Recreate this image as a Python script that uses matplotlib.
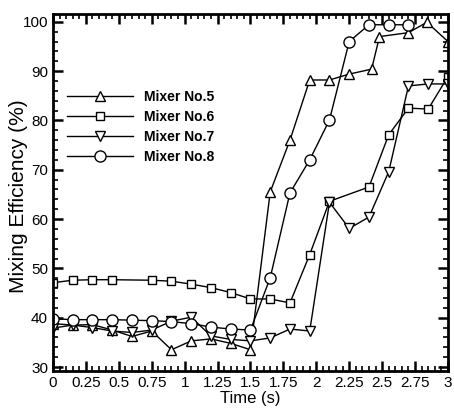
import matplotlib
matplotlib.use('Agg')
import matplotlib.pyplot as plt
from matplotlib.ticker import MultipleLocator

plt.rcParams['font.family'] = ['Liberation Sans', 'DejaVu Sans']

# Data
t5 = [0, 0.15, 0.3, 0.45, 0.6, 0.75, 0.9, 1.05, 1.2, 1.35, 1.5, 1.65, 1.8,
      1.95, 2.1, 2.25, 2.42, 2.48, 2.7, 2.84, 3.0]
mixer5 = [38.8, 38.5, 38.6, 37.5, 36.2, 37.3, 33.5, 35.3, 35.7, 34.8, 33.5,
          65.5, 76.0, 88.2, 88.2, 89.4, 90.4, 97.0, 97.8, 99.9, 96.0]

t6 = [0, 0.15, 0.3, 0.45, 0.75, 0.9, 1.05, 1.2, 1.35, 1.5, 1.65, 1.8, 1.95,
      2.1, 2.4, 2.55, 2.7, 2.85, 3.0]
mixer6 = [47.1, 47.6, 47.7, 47.7, 47.6, 47.4, 46.8, 46.1, 45.1, 43.8, 43.8,
          43.0, 52.8, 63.6, 66.5, 77.1, 82.5, 82.3, 88.9]

t7 = [0, 0.15, 0.3, 0.45, 0.6, 0.75, 0.9, 1.05, 1.2, 1.35, 1.5, 1.65, 1.8,
      1.95, 2.1, 2.25, 2.4, 2.55, 2.7, 2.85, 3.0]
mixer7 = [37.9, 38.5, 38.0, 37.3, 37.0, 37.5, 39.3, 40.1, 36.3, 35.6, 35.3,
          35.9, 37.7, 37.3, 63.4, 58.1, 60.4, 69.6, 87.0, 87.4, 87.4]

t8 = [0, 0.15, 0.3, 0.45, 0.6, 0.75, 0.9, 1.05, 1.2, 1.35, 1.5, 1.65, 1.8,
      1.95, 2.1, 2.25, 2.4, 2.55, 2.7]
mixer8 = [39.8, 39.6, 39.6, 39.6, 39.5, 39.4, 39.2, 38.8, 38.1, 37.7, 37.5,
          48.1, 65.3, 72.0, 80.1, 96.0, 99.4, 99.4, 99.4]

xticks = [0, 0.25, 0.5, 0.75, 1, 1.25, 1.5, 1.75, 2, 2.25, 2.5, 2.75, 3]
xticklabels = ['0', '0.25', '0.5', '0.75', '1', '1.25', '1.5', '1.75', '2',
               '2.25', '2.5', '2.75', '3']

fig = plt.figure(figsize=(4.54, 4.09), dpi=100)
ax = fig.add_axes([0.1167, 0.093, 0.870, 0.873])

style = dict(color='black', lw=1, markerfacecolor='white',
             markeredgecolor='black', markeredgewidth=1)
ax.plot(t5, mixer5, marker='^', markersize=7.5, label='Mixer No.5', **style)
ax.plot(t6, mixer6, marker='s', markersize=6.3, label='Mixer No.6', **style)
ax.plot(t7, mixer7, marker='v', markersize=7.5, label='Mixer No.7', **style)
ax.plot(t8, mixer8, marker='o', markersize=8, label='Mixer No.8', **style)

ax.set_xlim(0, 3)
ax.set_ylim(29.2, 101.6)
ax.set_xticks(xticks)
ax.set_xticklabels(xticklabels)
ax.set_yticks([30, 40, 50, 60, 70, 80, 90, 100])
ax.xaxis.set_minor_locator(MultipleLocator(0.05))
ax.yaxis.set_minor_locator(MultipleLocator(2))
ax.tick_params(which='both', direction='in', top=True, right=True,
               labelsize=11, width=1.2)
ax.tick_params(which='major', length=7, width=1.8)
ax.tick_params(which='minor', length=3.5)
for s in ax.spines.values():
    s.set_linewidth(2)

ax.set_xlabel('Time (s)', fontsize=12, labelpad=1)
ax.set_ylabel('Mixing Efficiency (%)', fontsize=15)
ax.yaxis.set_label_coords(-0.062, 0.49)

ax.legend(loc='upper left', bbox_to_anchor=(0.005, 0.823), frameon=False,
          numpoints=1, handlelength=4.7, handletextpad=0.8,
          labelspacing=0.45, prop={'weight': 'bold', 'size': 10})

fig.savefig('out.png', dpi=100)
